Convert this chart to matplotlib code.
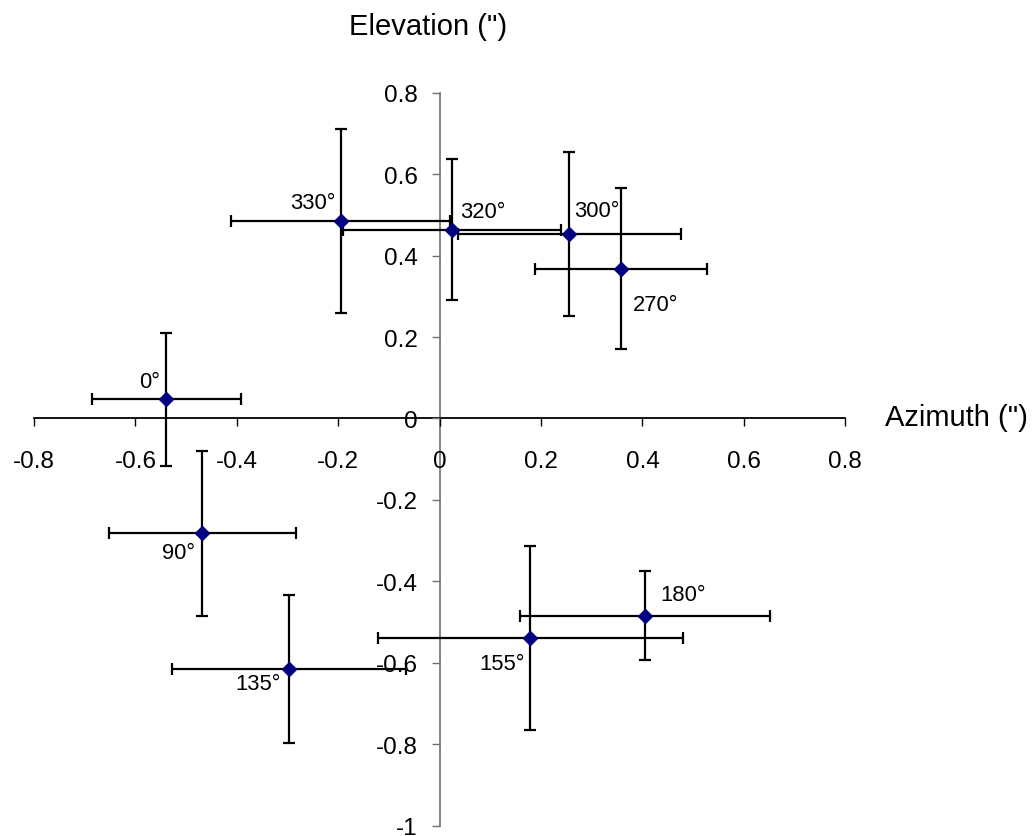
import matplotlib
matplotlib.use("Agg")
import matplotlib.pyplot as plt
import numpy as np

plt.rcParams['font.family'] = ['Liberation Sans', 'DejaVu Sans']

# Pointing offsets per rotator angle (arcsec)
angles = ["0°", "90°", "135°", "155°", "180°", "270°", "300°", "320°", "330°"]
azimuth = [-0.539, -0.468, -0.297, 0.179, 0.405, 0.358, 0.256, 0.025, -0.195]
elevation = [0.047, -0.282, -0.615, -0.539, -0.484, 0.368, 0.453, 0.464, 0.485]
az_err = [0.147, 0.184, 0.230, 0.300, 0.246, 0.169, 0.219, 0.215, 0.216]
el_err = [0.164, 0.203, 0.181, 0.227, 0.110, 0.197, 0.202, 0.173, 0.226]

# label offsets (pixels) relative to each point
label_dx = [-17, -24, -31, -28, 38, 34, 27, 31, -28]
label_dy = [18, -19, -15, -26, 21, -36, 24, 18, 18]

fig = plt.figure(figsize=(10.36, 8.37), dpi=100)
ax = fig.add_axes([34 / 1036, 1 - 826.7 / 837, (845.3 - 34) / 1036, (826.7 - 93.7) / 837])

ax.errorbar(azimuth, elevation, xerr=az_err, yerr=el_err, fmt='none',
            ecolor='black', elinewidth=1.6, capsize=4, capthick=1.6, zorder=2)
ax.plot(azimuth, elevation, linestyle='none', marker='D', markersize=7.6,
        color='#000080', zorder=3)

for a, x, y, dx, dy in zip(angles, azimuth, elevation, label_dx, label_dy):
    ax.annotate(a, (x, y), xytext=(dx, dy), textcoords='offset pixels',
                ha='center', va='center', fontsize=15.8, color='black')

ax.set_xlim(-0.8, 0.8)
ax.set_ylim(-1.0, 0.8)
ax.set_xticks(np.arange(-0.8, 0.81, 0.2))
ax.set_yticks(np.arange(-1.0, 0.81, 0.2))
ax.set_xticklabels(["-0.8", "-0.6", "-0.4", "-0.2", "0", "0.2", "0.4", "0.6", "0.8"])
ax.set_yticklabels(["-1", "-0.8", "-0.6", "-0.4", "-0.2", "0", "0.2", "0.4", "0.6", "0.8"])

for s in ['top', 'right']:
    ax.spines[s].set_visible(False)
ax.spines['left'].set_position(('data', 0))
ax.spines['bottom'].set_position(('data', 0))
ax.spines['bottom'].set_color('black')
ax.spines['bottom'].set_linewidth(1.3)
ax.spines['left'].set_color('#707070')
ax.spines['left'].set_linewidth(1.2)
ax.spines['bottom'].set_zorder(1)
ax.spines['left'].set_zorder(1)

ax.tick_params(axis='x', direction='out', length=6, width=1, color='black',
               labelsize=17.5, pad=16.5)
ax.tick_params(axis='y', direction='out', length=6, width=1, color='#707070',
               labelsize=17.5, pad=10)
ax.patch.set_visible(False)

fig.text(428 / 1036, 1 - 27 / 837, 'Elevation (")', ha='center', va='center', fontsize=21)
fig.text(885 / 1036, 1 - 418 / 837, 'Azimuth (")', ha='left', va='center', fontsize=21)

fig.savefig("out.png", dpi=100, facecolor='white')
